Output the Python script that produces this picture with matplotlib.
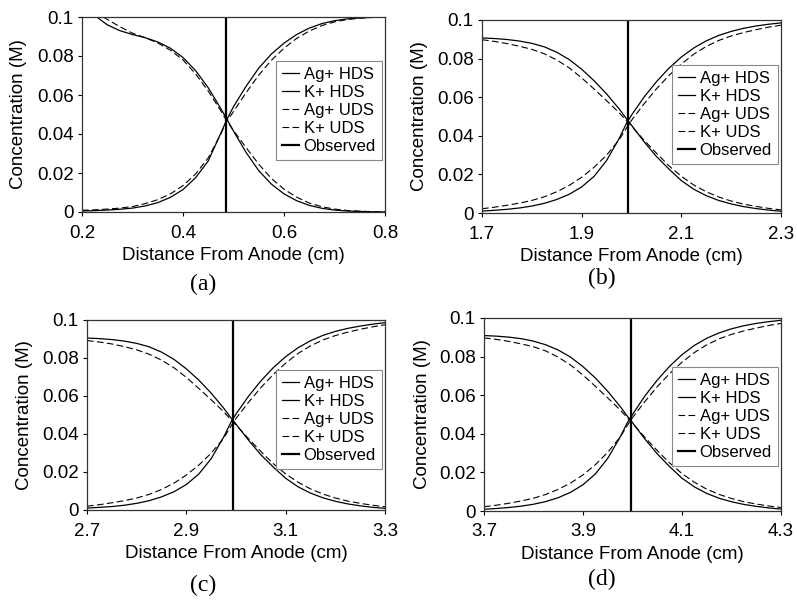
import numpy as np
import matplotlib
matplotlib.use('Agg')
import matplotlib.pyplot as plt

plt.rcParams['font.family'] = 'Liberation Sans'

# Data (concentration in M vs distance from anode in cm)
x_a = [0.200, 0.225, 0.250, 0.275, 0.300, 0.325, 0.350, 0.375, 0.400, 0.425, 0.450, 0.475, 0.486,
       0.500, 0.525, 0.550, 0.575, 0.600, 0.625, 0.650, 0.675, 0.700, 0.725, 0.750, 0.775, 0.800]
ag_hds_a = [np.nan, 0.1008, 0.0960, 0.0930, 0.0910, 0.0894, 0.0872, 0.0840, 0.0792, 0.0725, 0.0637, 0.0530, 0.0480,
            0.0415, 0.0305, 0.0212, 0.0143, 0.0093, 0.0058, 0.0034, 0.0019, 0.0010, 0.0005, 0.0003, 0.0001, 0.0000]
k_hds_a = [0.0005, 0.0007, 0.0010, 0.0014, 0.0020, 0.0031, 0.0048, 0.0075, 0.0115, 0.0176, 0.0262, 0.0405, 0.0470,
           0.0540, 0.0645, 0.0738, 0.0810, 0.0866, 0.0910, 0.0943, 0.0966, 0.0981, 0.0990, 0.0995, 0.0998, 0.1000]
ag_uds_a = [np.nan, 0.1025, 0.0988, 0.0950, 0.0917, 0.0894, 0.0867, 0.0830, 0.0780, 0.0708, 0.0620, 0.0518, 0.0470,
            0.0418, 0.0330, 0.0245, 0.0172, 0.0117, 0.0076, 0.0046, 0.0027, 0.0015, 0.0008, 0.0004, 0.0002, 0.0001]
k_uds_a = [0.0009, 0.0011, 0.0015, 0.0020, 0.0028, 0.0043, 0.0063, 0.0093, 0.0135, 0.0195, 0.0278, 0.0400, 0.0462,
           0.0515, 0.0612, 0.0702, 0.0778, 0.0840, 0.0890, 0.0928, 0.0956, 0.0975, 0.0987, 0.0994, 0.0998, 0.1000]

x_b = [1.700, 1.725, 1.750, 1.775, 1.800, 1.825, 1.850, 1.875, 1.900, 1.925, 1.950, 1.975, 1.990,
       2.000, 2.025, 2.050, 2.075, 2.100, 2.125, 2.150, 2.175, 2.200, 2.225, 2.250, 2.275, 2.300]
ag_hds_b = [0.0907, 0.0904, 0.0899, 0.0891, 0.0879, 0.0861, 0.0833, 0.0795, 0.0745, 0.0685, 0.0617, 0.0540, 0.0488,
            0.0455, 0.0370, 0.0293, 0.0228, 0.0168, 0.0123, 0.0090, 0.0065, 0.0047, 0.0033, 0.0023, 0.0015, 0.0009]
k_hds_b = [0.0010, 0.0014, 0.0019, 0.0026, 0.0036, 0.0050, 0.0070, 0.0097, 0.0135, 0.0190, 0.0272, 0.0385, 0.0465,
           0.0507, 0.0600, 0.0680, 0.0750, 0.0808, 0.0855, 0.0892, 0.0920, 0.0941, 0.0957, 0.0969, 0.0978, 0.0985]
ag_uds_b = [0.0898, 0.0889, 0.0878, 0.0864, 0.0848, 0.0825, 0.0793, 0.0752, 0.0700, 0.0642, 0.0582, 0.0520, 0.0478,
            0.0450, 0.0378, 0.0310, 0.0245, 0.0190, 0.0145, 0.0110, 0.0083, 0.0062, 0.0046, 0.0034, 0.0024, 0.0016]
k_uds_b = [0.0022, 0.0030, 0.0040, 0.0051, 0.0065, 0.0084, 0.0110, 0.0143, 0.0185, 0.0237, 0.0300, 0.0378, 0.0440,
           0.0480, 0.0565, 0.0643, 0.0712, 0.0772, 0.0823, 0.0863, 0.0894, 0.0917, 0.0935, 0.0950, 0.0963, 0.0973]

x_c = [2.700, 2.725, 2.750, 2.775, 2.800, 2.825, 2.850, 2.875, 2.900, 2.925, 2.950, 2.975, 2.990,
       3.000, 3.025, 3.050, 3.075, 3.100, 3.125, 3.150, 3.175, 3.200, 3.225, 3.250, 3.275, 3.300]
ag_hds_c = [0.0905, 0.0902, 0.0897, 0.0889, 0.0877, 0.0859, 0.0831, 0.0793, 0.0743, 0.0684, 0.0615, 0.0537, 0.0484,
            0.0452, 0.0368, 0.0291, 0.0226, 0.0167, 0.0122, 0.0089, 0.0064, 0.0046, 0.0032, 0.0022, 0.0014, 0.0009]
k_hds_c = [0.0010, 0.0014, 0.0018, 0.0025, 0.0035, 0.0049, 0.0069, 0.0096, 0.0134, 0.0189, 0.0270, 0.0383, 0.0463,
           0.0505, 0.0598, 0.0679, 0.0749, 0.0807, 0.0854, 0.0891, 0.0919, 0.0940, 0.0956, 0.0968, 0.0978, 0.0986]
ag_uds_c = [0.0892, 0.0884, 0.0874, 0.0860, 0.0843, 0.0820, 0.0789, 0.0749, 0.0698, 0.0640, 0.0580, 0.0518, 0.0474,
            0.0447, 0.0376, 0.0308, 0.0244, 0.0190, 0.0146, 0.0111, 0.0084, 0.0063, 0.0047, 0.0035, 0.0025, 0.0017]
k_uds_c = [0.0020, 0.0028, 0.0038, 0.0049, 0.0063, 0.0082, 0.0108, 0.0141, 0.0184, 0.0236, 0.0299, 0.0377, 0.0442,
           0.0482, 0.0566, 0.0644, 0.0713, 0.0773, 0.0824, 0.0864, 0.0895, 0.0918, 0.0936, 0.0951, 0.0964, 0.0975]

x_d = [3.700, 3.725, 3.750, 3.775, 3.800, 3.825, 3.850, 3.875, 3.900, 3.925, 3.950, 3.975, 3.990,
       4.000, 4.025, 4.050, 4.075, 4.100, 4.125, 4.150, 4.175, 4.200, 4.225, 4.250, 4.275, 4.300]
ag_hds_d = [0.0909, 0.0906, 0.0901, 0.0893, 0.0880, 0.0861, 0.0834, 0.0797, 0.0748, 0.0689, 0.0620, 0.0542, 0.0490,
            0.0458, 0.0373, 0.0296, 0.0230, 0.0170, 0.0125, 0.0091, 0.0066, 0.0048, 0.0034, 0.0024, 0.0016, 0.0010]
k_hds_d = [0.0009, 0.0013, 0.0018, 0.0025, 0.0035, 0.0049, 0.0069, 0.0097, 0.0136, 0.0192, 0.0273, 0.0383, 0.0460,
           0.0500, 0.0596, 0.0678, 0.0750, 0.0810, 0.0858, 0.0895, 0.0923, 0.0944, 0.0960, 0.0972, 0.0981, 0.0988]
ag_uds_d = [0.0897, 0.0889, 0.0879, 0.0866, 0.0851, 0.0829, 0.0797, 0.0756, 0.0704, 0.0646, 0.0586, 0.0524, 0.0482,
            0.0454, 0.0382, 0.0313, 0.0249, 0.0194, 0.0149, 0.0113, 0.0086, 0.0065, 0.0048, 0.0036, 0.0026, 0.0018]
k_uds_d = [0.0022, 0.0030, 0.0040, 0.0052, 0.0066, 0.0086, 0.0112, 0.0145, 0.0187, 0.0240, 0.0304, 0.0383, 0.0445,
           0.0484, 0.0567, 0.0644, 0.0712, 0.0771, 0.0821, 0.0861, 0.0892, 0.0915, 0.0933, 0.0948, 0.0961, 0.0972]

observed = [0.486, 1.992, 2.993, 3.996]
xticks_a = [0.2, 0.4, 0.6, 0.8]
xticks_b = [1.7, 1.9, 2.1, 2.3]
xticks_c = [2.7, 2.9, 3.1, 3.3]
xticks_d = [3.7, 3.9, 4.1, 4.3]
yticks = [0, 0.02, 0.04, 0.06, 0.08, 0.1]
ytick_labels = ['0', '0.02', '0.04', '0.06', '0.08', '0.1']
series_names = ['Ag+ HDS', 'K+ HDS', 'Ag+ UDS', 'K+ UDS', 'Observed']
tags = ['(a)', '(b)', '(c)', '(d)']

fig = plt.figure(figsize=(7.97, 6.03), dpi=100)
W, H = 797, 603


def add_ax(left, top, right, bottom):
    return fig.add_axes([left / W, 1 - bottom / H, (right - left) / W, (bottom - top) / H])


def draw_panel(ax, x, ag_hds, k_hds, ag_uds, k_uds, obs, xticks, leg_y):
    ax.plot(x, ag_hds, color='black', lw=0.9, label=series_names[0])
    ax.plot(x, k_hds, color='black', lw=0.9, label=series_names[1])
    ax.plot(x, ag_uds, color='black', lw=0.8, dashes=(6, 3), label=series_names[2])
    ax.plot(x, k_uds, color='black', lw=0.8, dashes=(6, 3), label=series_names[3])
    ax.axvline(obs, color='black', lw=1.6, label=series_names[4])
    ax.set_xlim(xticks[0], xticks[-1])
    ax.set_ylim(0, 0.1)
    ax.set_xticks(xticks)
    ax.set_xticklabels([f'{t:.1f}' for t in xticks])
    ax.set_yticks(yticks)
    ax.set_yticklabels(ytick_labels)
    ax.tick_params(direction='out', length=3, width=0.8, labelsize=13.5, pad=3)
    ax.tick_params(axis='x', pad=6)
    for s in ax.spines.values():
        s.set_linewidth(0.9)
        s.set_color('#333333')
    ax.set_xlabel('Distance From Anode (cm)', fontsize=13.5, labelpad=4)
    ax.set_ylabel('Concentration (M)', fontsize=13.5)
    ax.yaxis.set_label_coords(-0.18, 0.5)
    leg = ax.legend(loc='center right', bbox_to_anchor=(1.0, leg_y), fontsize=12,
                    frameon=True, fancybox=False, framealpha=1, edgecolor='#888888',
                    handlelength=1.0, handletextpad=0.3, labelspacing=0.18,
                    borderpad=0.35, borderaxespad=0.2)
    leg.get_frame().set_linewidth(0.8)


ax_a = add_ax(82, 17, 385, 212)
draw_panel(ax_a, x_a, ag_hds_a, k_hds_a, ag_uds_a, k_uds_a, observed[0], xticks_a, 0.52)
ax_b = add_ax(482, 20, 781, 213)
draw_panel(ax_b, x_b, ag_hds_b, k_hds_b, ag_uds_b, k_uds_b, observed[1], xticks_b, 0.51)
ax_c = add_ax(87, 320, 385, 510)
draw_panel(ax_c, x_c, ag_hds_c, k_hds_c, ag_uds_c, k_uds_c, observed[2], xticks_c, 0.475)
ax_d = add_ax(484, 318, 781, 511)
draw_panel(ax_d, x_d, ag_hds_d, k_hds_d, ag_uds_d, k_uds_d, observed[3], xticks_d, 0.49)

tag_pos = [(203, 284), (602, 278), (203, 585), (602, 579)]
for t, (tx, ty) in zip(tags, tag_pos):
    fig.text(tx / W, 1 - ty / H, t, ha='center', va='center', fontsize=17,
             family='Liberation Serif')

fig.savefig('out.png', dpi=100)
